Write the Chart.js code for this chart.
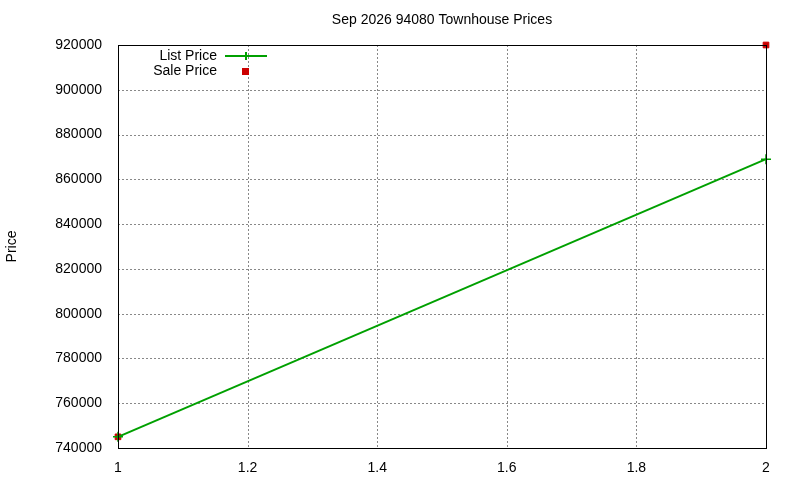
<!DOCTYPE html>
<html><head><script src="https://cdn.jsdelivr.net/npm/chart.js@4"></script>
<style>body{margin:0;background:#fff}#w{width:800px;height:480px}</style></head>
<body><div id="w"><canvas id="c"></canvas></div>
<script>
const xs = [1, 2];
const listPrice = [745000, 869000];
const salePrice = [745000, 920000];
const yTicks = [740000,760000,780000,800000,820000,840000,860000,880000,900000,920000];
const xTicks = [1,1.2,1.4,1.6,1.8,2];
const titleText = 'Sep 2026 94080 Townhouse Prices';
const F = '"Liberation Sans", Arial, sans-serif';
const deco = {
  id:'deco',
  beforeDatasetsDraw(ch){
    const c=ch.ctx, a=ch.chartArea, sx=ch.scales.x, sy=ch.scales.y;
    c.save(); c.strokeStyle='#888'; c.lineWidth=1; c.setLineDash([2,2]);
    c.beginPath();
    xTicks.forEach(v=>{const p=Math.round(sx.getPixelForValue(v))+0.5; c.moveTo(p,a.top); c.lineTo(p,a.bottom);});
    yTicks.forEach(v=>{const p=Math.round(sy.getPixelForValue(v))+0.5; c.moveTo(a.left,p); c.lineTo(a.right,p);});
    c.stroke(); c.restore();
  },
  afterDraw(ch){
    const c=ch.ctx, a=ch.chartArea;
    c.save();
    c.fillStyle='#000'; c.font='14px '+F; c.textAlign='center'; c.textBaseline='middle';
    c.fillText(titleText,(a.left+a.right)/2,20);
    c.save(); c.translate(12,(a.top+a.bottom)/2); c.rotate(-Math.PI/2); c.fillText('Price',0,0); c.restore();
    c.strokeStyle='#000'; c.lineWidth=1; c.strokeRect(a.left+0.5,a.top+0.5,a.right-a.left,a.bottom-a.top);
    c.textAlign='right';
    c.fillText('List Price',217,56); c.fillText('Sale Price',217,71);
    c.strokeStyle='#00a000'; c.lineWidth=2;
    c.beginPath(); c.moveTo(225,56); c.lineTo(267,56); c.moveTo(246,52); c.lineTo(246,60); c.stroke();
    c.fillStyle='#cc0000'; c.fillRect(242,68,7,7);
    c.restore();
  }
};
new Chart(document.getElementById('c'),{
  type:'scatter',
  data:{datasets:[
    {label:'List Price',data:xs.map((x,i)=>({x,y:listPrice[i]})),showLine:true,clip:false,borderColor:'#00a000',backgroundColor:'#00a000',borderWidth:2,pointStyle:'cross',pointRadius:5,pointBorderWidth:1.5},
    {label:'Sale Price',data:xs.map((x,i)=>({x,y:salePrice[i]})),showLine:false,clip:false,borderColor:'#cc0000',backgroundColor:'#cc0000',pointStyle:'rect',pointRadius:4}
  ]},
  options:{
    responsive:true,maintainAspectRatio:false,animation:false,
    layout:{padding:{top:45,right:34,left:0,bottom:0}},
    plugins:{legend:{display:false},title:{display:false},tooltip:{enabled:false}},
    scales:{
      x:{type:'linear',min:1,max:2,afterFit(s){s.height=32;},
        afterBuildTicks(s){s.ticks=xTicks.map(v=>({value:v}));},
        ticks:{color:'#000',font:{family:F,size:14},padding:4,callback:v=>String(+(+v).toFixed(1))},
        grid:{display:false},border:{display:false}},
      y:{min:740000,max:920000,afterFit(s){s.width=118;},
        afterBuildTicks(s){s.ticks=yTicks.map(v=>({value:v}));},
        ticks:{color:'#000',font:{family:F,size:14},padding:8,callback:v=>String(v)},
        grid:{display:false},border:{display:false}}
    }
  },
  plugins:[deco]
});
</script></body></html>
